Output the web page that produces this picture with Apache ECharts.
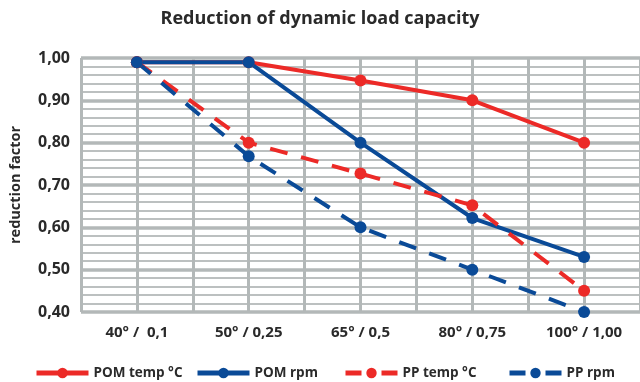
<!DOCTYPE html>
<html><head><meta charset="utf-8">
<script src="https://cdn.jsdelivr.net/npm/echarts@6/dist/echarts.min.js"></script>
<style>html,body{margin:0;padding:0;background:#fff}#c{width:640px;height:382px}</style>
</head><body><div id="c"></div>
<script>
const categories = ["40° /  0,1", "50° / 0,25", "65° / 0,5", "80° / 0,75", "100° / 1,00"];
const seriesNames = ["POM temp °C", "POM rpm", "PP temp °C", "PP rpm"];
const pomTemp = [0.99, 0.99, 0.947, 0.90, 0.80];
const pomRpm  = [0.99, 0.99, 0.80, 0.622, 0.53];
const ppTemp  = [0.99, 0.80, 0.727, 0.652, 0.45];
const ppRpm   = [0.99, 0.768, 0.60, 0.50, 0.40];

const RED = '#ec2a27', BLUE = '#0a4a97', TXT = '#2a2a2a', GRID = '#b3b8b8';
const FONT = '"Open Sans", sans-serif';
const chart = echarts.init(document.getElementById('c'), null, {renderer: 'canvas'});

function mk(name, data, color, dashed) {
  return {
    name, type: 'line', data, xAxisIndex: 0, yAxisIndex: 0,
    symbol: 'circle', symbolSize: 12,
    itemStyle: {color},
    lineStyle: {color, width: 4, type: dashed ? [18, 14] : 'solid'},
    emphasis: {disabled: true}, animation: false
  };
}
const legendLefts = [29, 190, 338, 502];
const dashedFlags = [false, false, true, true];
chart.setOption({
  animation: false,
  title: {
    text: 'Reduction of dynamic load capacity', left: 'center', top: 5,
    textStyle: {fontFamily: FONT, fontWeight: 700, fontSize: 18, color: TXT}
  },
  grid: {left: 78, right: -3, top: 58, bottom: 70},
  legend: seriesNames.map((n, i) => ({
    data: [n], left: legendLefts[i], top: 361, itemWidth: 52, itemHeight: 13,
    lineStyle: {width: 5, type: dashedFlags[i] ? [16, 20] : 'solid'},
    textStyle: {fontFamily: FONT, fontWeight: 700, fontSize: 13.5, color: TXT},
    selectedMode: false
  })),
  xAxis: [
    {type: 'category', data: categories, boundaryGap: true,
     axisLine: {show: false}, axisTick: {show: false}, splitLine: {show: false},
     axisLabel: {fontFamily: FONT, fontWeight: 700, fontSize: 15, color: TXT, margin: 13}},
    {type: 'value', min: 0, max: 10, interval: 1, position: 'bottom',
     axisLine: {show: false}, axisTick: {show: false}, axisLabel: {show: false},
     splitLine: {show: true, lineStyle: {color: GRID, width: 3}}}
  ],
  yAxis: {
    type: 'value', min: 0.4, max: 1.0, interval: 0.1,
    name: 'reduction factor', nameLocation: 'middle', nameGap: 58,
    nameTextStyle: {fontFamily: FONT, fontWeight: 700, fontSize: 14.5, color: TXT},
    axisLine: {show: false}, axisTick: {show: false},
    axisLabel: {fontFamily: FONT, fontWeight: 700, fontSize: 16, color: TXT, margin: 11,
      formatter: v => v.toFixed(2).replace('.', ',')},
    splitLine: {show: true, lineStyle: {color: GRID, width: 3.5}},
    minorTick: {show: false, splitNumber: 5},
    minorSplitLine: {show: true, lineStyle: {color: '#bcc0c0', width: 2}}
  },
  series: [
    mk(seriesNames[0], pomTemp, RED, false),
    mk(seriesNames[1], pomRpm, BLUE, false),
    mk(seriesNames[2], ppTemp, RED, true),
    mk(seriesNames[3], ppRpm, BLUE, true)
  ]
});
</script></body></html>
